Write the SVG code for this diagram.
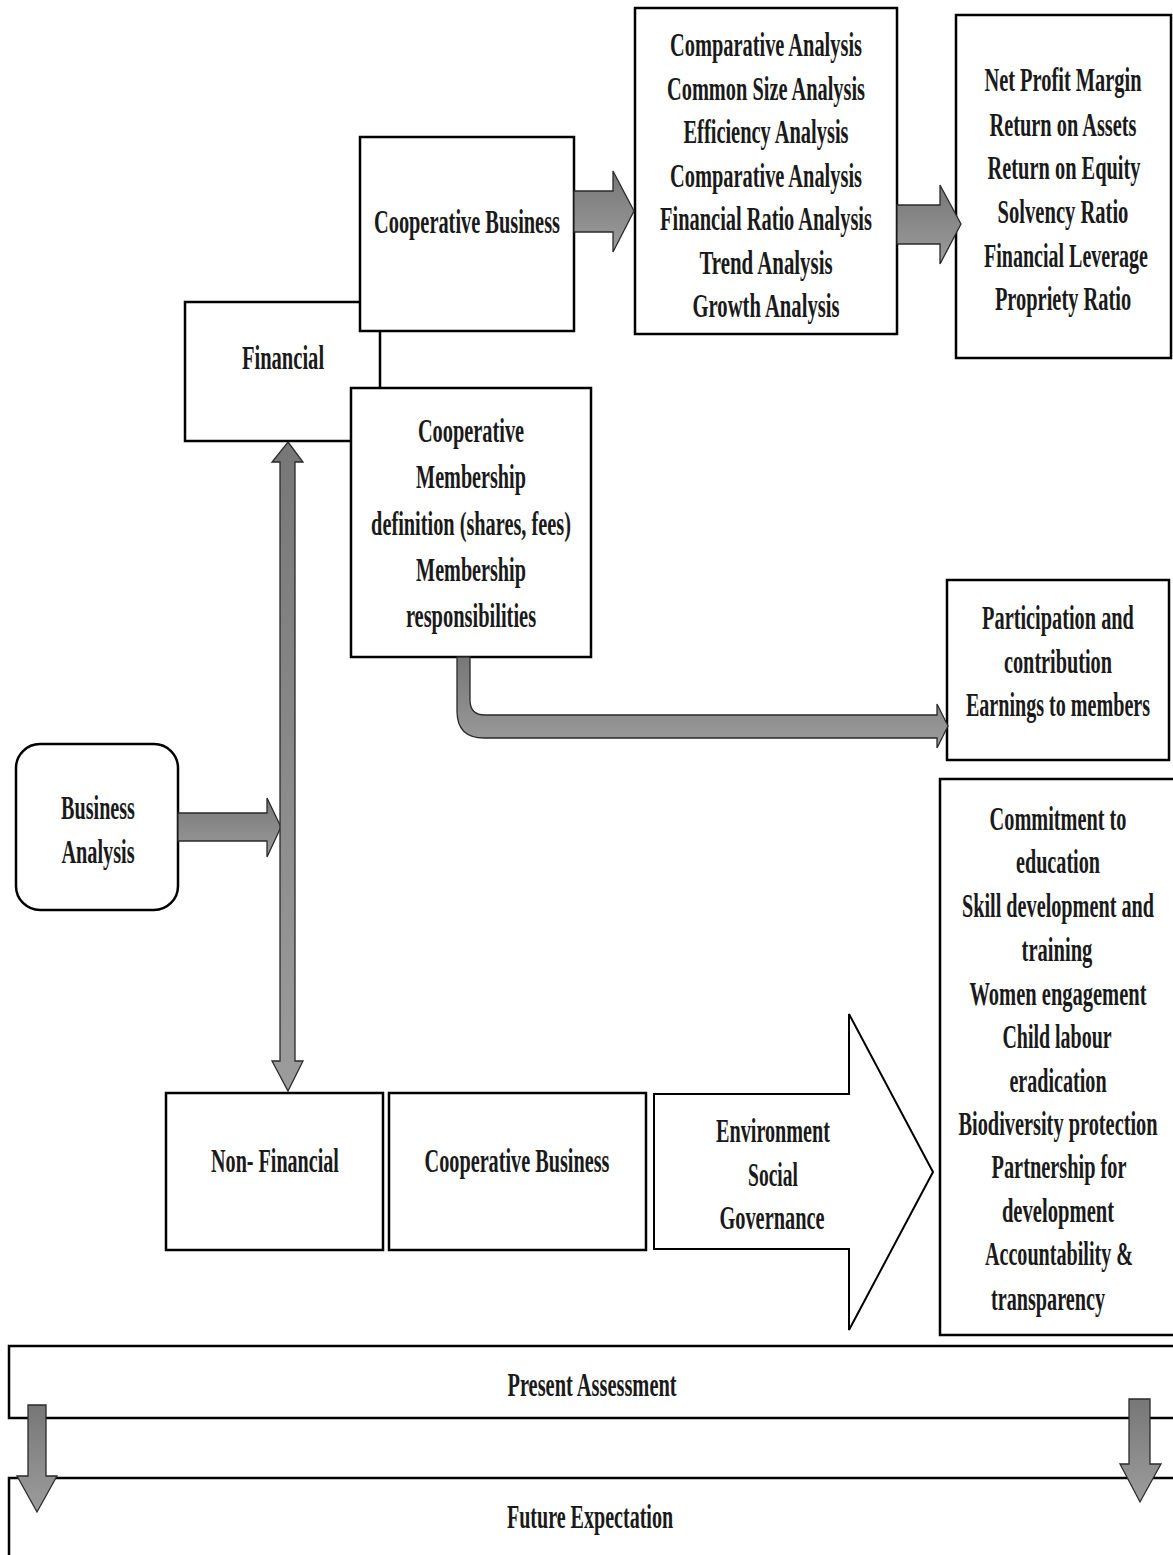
<svg xmlns="http://www.w3.org/2000/svg" width="1173" height="1555" viewBox="0 0 1173 1555">
  <style>
    .box { fill: #ffffff; stroke: #000000; stroke-width: 2.5; }
    .arrow { fill: url(#grayFill); stroke: #2a2a2a; stroke-width: 1.3; stroke-linejoin: miter; }
    .hollow { fill: #ffffff; stroke: #000000; stroke-width: 2; }
    .link { fill: none; stroke: #000000; stroke-width: 1.5; }
    text { font-family: "Liberation Serif", "Times New Roman", serif; font-weight: bold; font-size: 34px; fill: #1a1a1a; text-anchor: middle; }
  </style>
  <defs>
    <linearGradient id="grayFill" x1="0" y1="0" x2="0" y2="1">
      <stop offset="0" stop-color="#777777"/>
      <stop offset="1" stop-color="#9c9c9c"/>
    </linearGradient>
  </defs>

  <rect width="1173" height="1555" fill="#ffffff"/>

  <!-- Labels are set in a condensed face: each label block is squeezed to 60% width about its centre -->

  <!-- Financial (drawn first, partly covered by the boxes beside it) -->
  <g id="financial">
    <rect class="box" x="185" y="302" width="195" height="139"/>
    <g transform="translate(283,0) scale(0.6,1)">
      <text x="0" y="369" textLength="137" lengthAdjust="spacingAndGlyphs">Financial</text>
    </g>
  </g>

  <!-- Cooperative Business (financial branch) -->
  <g id="coop-business-fin">
    <rect class="box" x="360" y="137" width="214" height="194"/>
    <g transform="translate(467,0) scale(0.6,1)">
      <text x="0" y="233" textLength="310" lengthAdjust="spacingAndGlyphs">Cooperative Business</text>
    </g>
  </g>

  <!-- Cooperative Membership -->
  <g id="membership">
    <rect class="box" x="351" y="388" width="240" height="269"/>
    <g transform="translate(471,0) scale(0.6,1)">
      <text x="0" y="442" textLength="177" lengthAdjust="spacingAndGlyphs">Cooperative</text>
      <text x="0" y="488" textLength="183" lengthAdjust="spacingAndGlyphs">Membership</text>
      <text x="0" y="535" textLength="333" lengthAdjust="spacingAndGlyphs">definition (shares, fees)</text>
      <text x="0" y="581" textLength="183" lengthAdjust="spacingAndGlyphs">Membership</text>
      <text x="0" y="627" textLength="217" lengthAdjust="spacingAndGlyphs">responsibilities</text>
    </g>
  </g>

  <!-- Analysis techniques -->
  <g id="analysis-methods">
    <rect class="box" x="635" y="8" width="262" height="326"/>
    <g transform="translate(766,0) scale(0.6,1)">
      <text x="0" y="56" textLength="320" lengthAdjust="spacingAndGlyphs">Comparative Analysis</text>
      <text x="0" y="100" textLength="330" lengthAdjust="spacingAndGlyphs">Common Size Analysis</text>
      <text x="0" y="143" textLength="275" lengthAdjust="spacingAndGlyphs">Efficiency Analysis</text>
      <text x="0" y="187" textLength="320" lengthAdjust="spacingAndGlyphs">Comparative Analysis</text>
      <text x="0" y="230" textLength="353" lengthAdjust="spacingAndGlyphs">Financial Ratio Analysis</text>
      <text x="0" y="274" textLength="222" lengthAdjust="spacingAndGlyphs">Trend Analysis</text>
      <text x="0" y="317" textLength="245" lengthAdjust="spacingAndGlyphs">Growth Analysis</text>
    </g>
  </g>

  <!-- Financial ratios -->
  <g id="ratios">
    <rect class="box" x="956" y="15" width="215" height="343"/>
    <g transform="translate(1063,0) scale(0.6,1)">
      <text x="0" y="91" textLength="262" lengthAdjust="spacingAndGlyphs">Net Profit Margin</text>
      <text x="0" y="136" textLength="245" lengthAdjust="spacingAndGlyphs">Return on Assets</text>
      <text x="1.7" y="179" textLength="255" lengthAdjust="spacingAndGlyphs">Return on Equity</text>
      <text x="0" y="223" textLength="218" lengthAdjust="spacingAndGlyphs">Solvency Ratio</text>
      <text x="5" y="267" textLength="273" lengthAdjust="spacingAndGlyphs">Financial Leverage</text>
      <text x="0" y="310" textLength="227" lengthAdjust="spacingAndGlyphs">Propriety Ratio</text>
    </g>
  </g>

  <!-- Member participation -->
  <g id="participation">
    <rect class="box" x="947" y="580" width="222" height="180"/>
    <g transform="translate(1058,0) scale(0.6,1)">
      <text x="0" y="629" textLength="253" lengthAdjust="spacingAndGlyphs">Participation and</text>
      <text x="0" y="673" textLength="180" lengthAdjust="spacingAndGlyphs">contribution</text>
      <text x="0" y="716" textLength="307" lengthAdjust="spacingAndGlyphs">Earnings to members</text>
    </g>
  </g>

  <!-- ESG outcomes -->
  <g id="esg-outcomes">
    <rect class="box" x="940" y="779" width="245" height="556"/>
    <g transform="translate(1058,0) scale(0.6,1)">
      <text x="0" y="830" textLength="228" lengthAdjust="spacingAndGlyphs">Commitment to</text>
      <text x="0" y="873" textLength="140" lengthAdjust="spacingAndGlyphs">education</text>
      <text x="0" y="917" textLength="320" lengthAdjust="spacingAndGlyphs">Skill development and</text>
      <text x="-1.7" y="961" textLength="118" lengthAdjust="spacingAndGlyphs">training</text>
      <text x="0" y="1005" textLength="295" lengthAdjust="spacingAndGlyphs">Women engagement</text>
      <text x="-1.7" y="1048" textLength="182" lengthAdjust="spacingAndGlyphs">Child labour</text>
      <text x="0" y="1092" textLength="162" lengthAdjust="spacingAndGlyphs">eradication</text>
      <text x="0" y="1135" textLength="332" lengthAdjust="spacingAndGlyphs">Biodiversity protection</text>
      <text x="1.7" y="1178" textLength="225" lengthAdjust="spacingAndGlyphs">Partnership for</text>
      <text x="0" y="1222" textLength="187" lengthAdjust="spacingAndGlyphs">development</text>
      <text x="1.7" y="1265" textLength="247" lengthAdjust="spacingAndGlyphs">Accountability &amp;</text>
      <text x="-16.7" y="1310" textLength="190" lengthAdjust="spacingAndGlyphs">transparency</text>
    </g>
  </g>

  <!-- Business Analysis -->
  <g id="business-analysis">
    <rect class="box" x="16" y="744" width="162" height="166" rx="24" ry="24"/>
    <g transform="translate(98,0) scale(0.6,1)">
      <text x="0" y="819" textLength="123" lengthAdjust="spacingAndGlyphs">Business</text>
      <text x="0" y="863" textLength="122" lengthAdjust="spacingAndGlyphs">Analysis</text>
    </g>
  </g>

  <!-- Non-Financial -->
  <g id="non-financial">
    <rect class="box" x="166" y="1093" width="217" height="157"/>
    <g transform="translate(275,0) scale(0.6,1)">
      <text x="0" y="1172" textLength="213" lengthAdjust="spacingAndGlyphs">Non- Financial</text>
    </g>
  </g>

  <!-- Cooperative Business (non-financial branch) -->
  <g id="coop-business-nonfin">
    <rect class="box" x="389" y="1093" width="257" height="157"/>
    <g transform="translate(517,0) scale(0.6,1)">
      <text x="0" y="1172" textLength="308" lengthAdjust="spacingAndGlyphs">Cooperative Business</text>
    </g>
  </g>

  <!-- ESG block arrow -->
  <g id="esg">
    <polygon class="hollow" points="654,1094 849,1094 849,1014 933,1172 849,1330 849,1249 654,1249"/>
    <g transform="translate(773,0) scale(0.6,1)">
      <text x="0" y="1142" textLength="190" lengthAdjust="spacingAndGlyphs">Environment</text>
      <text x="0" y="1186" textLength="83" lengthAdjust="spacingAndGlyphs">Social</text>
      <text x="-1.7" y="1229" textLength="175" lengthAdjust="spacingAndGlyphs">Governance</text>
    </g>
  </g>

  <!-- Present Assessment -->
  <g id="present-assessment">
    <rect class="box" x="9" y="1346" width="1180" height="72"/>
    <g transform="translate(592,0) scale(0.6,1)">
      <text x="0" y="1396" textLength="282" lengthAdjust="spacingAndGlyphs">Present Assessment</text>
    </g>
  </g>

  <!-- Future Expectation -->
  <g id="future-expectation">
    <rect class="box" x="9" y="1478" width="1180" height="100"/>
    <g transform="translate(590,0) scale(0.6,1)">
      <text x="0" y="1528" textLength="277" lengthAdjust="spacingAndGlyphs">Future Expectation</text>
    </g>
  </g>

  <!-- Connectors -->
  <g id="connectors">
    <!-- Financial edge joining the two financial sub-boxes -->
    <line class="link" x1="380" y1="331" x2="380" y2="388"/>
    <!-- Cooperative Business -> analysis techniques -->
    <polygon class="arrow" points="574,191 613,191 613,171 634,211 613,252 613,232 574,232"/>
    <!-- analysis techniques -> ratios -->
    <polygon class="arrow" points="897,205 940,205 940,185 961,224 940,264 940,244 897,244"/>
    <!-- Business Analysis -> vertical spine -->
    <polygon class="arrow" points="178,813 267,813 267,798 281,827 267,857 267,841 178,841"/>
    <!-- Financial <-> Non-Financial -->
    <polygon class="arrow" points="288,442 303,462 295,462 295,1061 303,1061 288,1091 272,1061 280,1061 280,462 272,462"/>
    <!-- Membership -> participation (elbow) -->
    <path class="arrow" d="M457,657 L470,657 L470,700 Q470,715 485,715 L937,715 L937,704 L948,726 L937,748 L937,738 L484,738 Q457,738 457,711 Z"/>
    <!-- Present Assessment -> Future Expectation -->
    <polygon class="arrow" points="28,1405 46,1405 46,1476 57,1476 37,1512 17,1476 28,1476"/>
    <polygon class="arrow" points="1129,1399 1150,1399 1150,1464 1161,1464 1140,1502 1120,1464 1129,1464"/>
  </g>
</svg>
